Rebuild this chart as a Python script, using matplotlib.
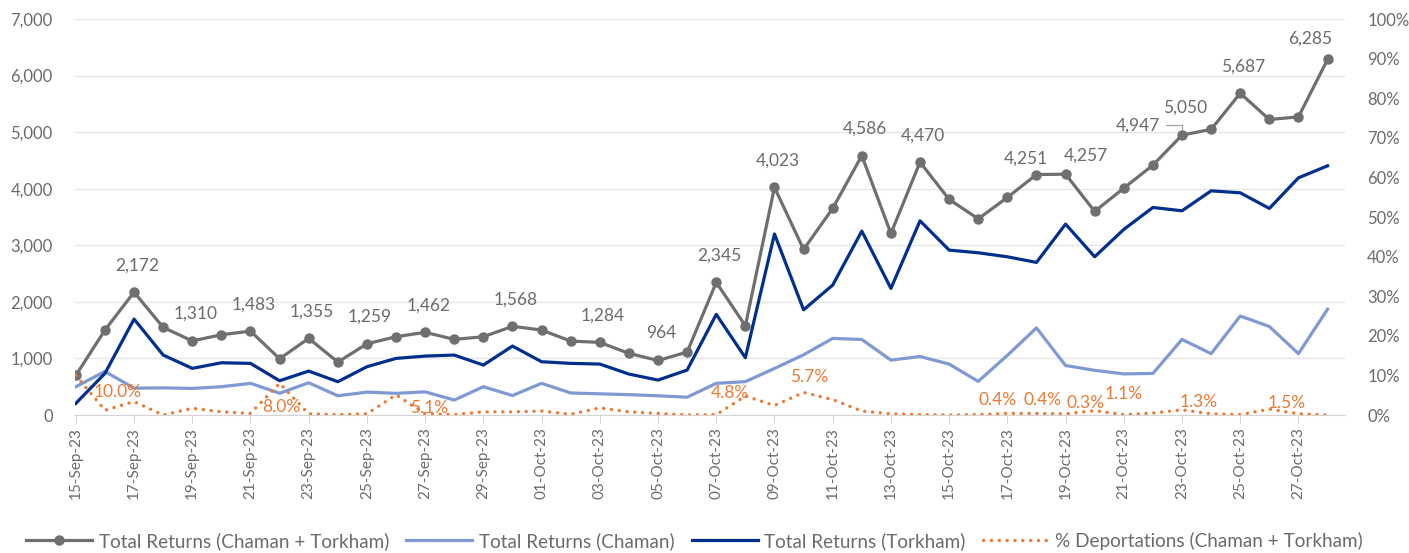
import matplotlib
matplotlib.use('Agg')
import matplotlib.pyplot as plt
from matplotlib.ticker import FuncFormatter, MultipleLocator
import numpy as np
import pandas as pd

plt.rcParams['font.family'] = ['Lato', 'DejaVu Sans']

# data
dates = pd.date_range('2023-09-15', '2023-10-28', freq='D')
total = [700, 1502, 2172, 1549, 1310, 1419, 1483, 995, 1355, 936, 1259, 1384, 1462, 1337,
         1384, 1568, 1502, 1307, 1284, 1090, 964, 1113, 2345, 1578, 4023, 2927, 3652, 4586,
         3210, 4470, 3811, 3468, 3846, 4251, 4257, 3599, 4011, 4417, 4947, 5050, 5687, 5224,
         5270, 6285]
chaman = [500, 770, 475, 480, 470, 500, 560, 385, 570, 340, 405, 383, 410, 265, 500, 345,
          560, 390, 375, 360, 340, 315, 560, 590, 823, 1065, 1355, 1335, 970, 1035, 900, 595,
          1055, 1540, 875, 790, 727, 735, 1337, 1085, 1750, 1565, 1085, 1870]
torkham = [206, 736, 1696, 1060, 825, 924, 913, 606, 777, 589, 854, 1001, 1042, 1060, 883,
           1219, 942, 913, 901, 724, 618, 795, 1779, 1013, 3200, 1860, 2297, 3251, 2238, 3433,
           2915, 2868, 2797, 2698, 3375, 2797, 3281, 3669, 3610, 3963, 3928, 3652, 4193, 4405]
pct_deport = [10.0, 1.2, 3.4, 0.0, 1.7, 0.8, 0.4, 8.0, 0.3, 0.1, 0.3, 5.1, 0.3, 0.1, 0.8, 0.8,
              1.0, 0.2, 1.8, 0.8, 0.4, 0.0, 0.1, 4.8, 2.4, 5.7, 3.9, 1.0, 0.3, 0.1, 0.0, 0.1,
              0.4, 0.4, 0.3, 1.1, 0.1, 0.5, 1.3, 0.3, 0.1, 1.5, 0.3, 0.0]

series_names = ['Total Returns (Chaman + Torkham)', 'Total Returns (Chaman)',
                'Total Returns (Torkham)', '% Deportations (Chaman + Torkham)']

# which points carry a data label
total_label_idx = [2, 4, 6, 8, 10, 12, 15, 18, 20, 22, 24, 27, 29, 33, 34, 38, 39, 40, 43]
pct_label_idx = [0, 7, 11, 23, 25, 32, 33, 34, 35, 38, 41]

GRAY = '#6f6f6f'
LIGHT = '#7f99d3'
DARK = '#002f8e'
ORANGE = '#ea7a35'
TXT = '#6b6b6b'

x = np.arange(len(dates))

fig = plt.figure(figsize=(14.09, 5.53), dpi=100)
ax = fig.add_axes([0.0532, 0.2495, 0.9014, 0.7161])
ax2 = ax.twinx()

ax.plot(x, total, color=GRAY, lw=2.3, marker='o', ms=6.5, zorder=3,
        label=series_names[0])
ax.plot(x, chaman, color=LIGHT, lw=2.3, zorder=2, label=series_names[1])
ax.plot(x, torkham, color=DARK, lw=2.3, zorder=4, label=series_names[2])
ax2.plot(x, np.array(pct_deport) / 100, color=ORANGE, lw=2.4,
         linestyle=(0, (0.05, 2.3)), dash_capstyle='round', label=series_names[3])

ax.set_xlim(-0.03, 43.6)
ax.set_ylim(0, 7000)
ax2.set_ylim(0, 1)
ax.yaxis.set_major_locator(MultipleLocator(1000))
ax2.yaxis.set_major_locator(MultipleLocator(0.1))
ax.yaxis.set_major_formatter(FuncFormatter(lambda v, p: f'{int(v):,}'))
ax2.yaxis.set_major_formatter(FuncFormatter(lambda v, p: f'{v * 100:.0f}%'))

ax.grid(axis='y', color='#e6e6e6', lw=1)
ax.set_axisbelow(True)
for a in (ax, ax2):
    for s in ('top', 'left', 'right', 'bottom'):
        a.spines[s].set_visible(False)
ax.spines['bottom'].set_visible(True)
ax.spines['bottom'].set_color('#d5d5d5')

ax.tick_params(axis='y', length=0, pad=16, labelsize=12, labelcolor=TXT)
ax2.tick_params(axis='y', length=0, pad=16, labelsize=12, labelcolor=TXT)
ax.set_xticks(x[::2])
ax.set_xticklabels([d.strftime('%d-%b-%y') for d in dates[::2]], rotation=90,
                   fontsize=11, color=TXT)
ax.tick_params(axis='x', length=6, color='#d5d5d5', pad=3)

px = 0.72  # pixel -> point at 100 dpi

# labels on total returns: (dx, dy) in pixels from the point
total_offsets = {33: (-11, 16), 34: (20, 19), 38: (-44, 10), 39: (-26, 22), 43: (-17, 21)}
for i in total_label_idx:
    dx, dy = total_offsets.get(i, (3, 27))
    kw = {}
    if i == 38:
        kw = dict(arrowprops=dict(arrowstyle='-', color='#9a9a9a', lw=0.8,
                                  connectionstyle='angle,angleA=0,angleB=90',
                                  shrinkA=2, shrinkB=4))
    ax.annotate(f'{total[i]:,}', (x[i], total[i]), xytext=(dx * px, dy * px),
                textcoords='offset points', ha='center', va='center',
                fontsize=12.5, color=TXT, zorder=6, **kw)

pct_offsets = {0: (42, -17), 7: (2, -24), 11: (33, -13), 23: (-15, 3), 25: (6, 15),
               32: (-10, 13), 33: (6, 13), 34: (20, 11), 35: (29, 17), 38: (17, 8),
               41: (17, 6)}
for i in pct_label_idx:
    dx, dy = pct_offsets[i]
    ax2.annotate(f'{pct_deport[i]:.1f}%', (x[i], pct_deport[i] / 100),
                 xytext=(dx * px, dy * px), textcoords='offset points',
                 ha='center', va='center', fontsize=12.5, color=ORANGE, zorder=6)

h1, l1 = ax.get_legend_handles_labels()
h2, l2 = ax2.get_legend_handles_labels()
fig.legend(h1 + h2, l1 + l2, loc='center', bbox_to_anchor=(0.493, 0.022), ncol=4,
           frameon=False, fontsize=13.6, labelcolor=TXT, handlelength=3.5,
           columnspacing=0.9, handletextpad=0.35)

fig.savefig('out.png', dpi=100)
